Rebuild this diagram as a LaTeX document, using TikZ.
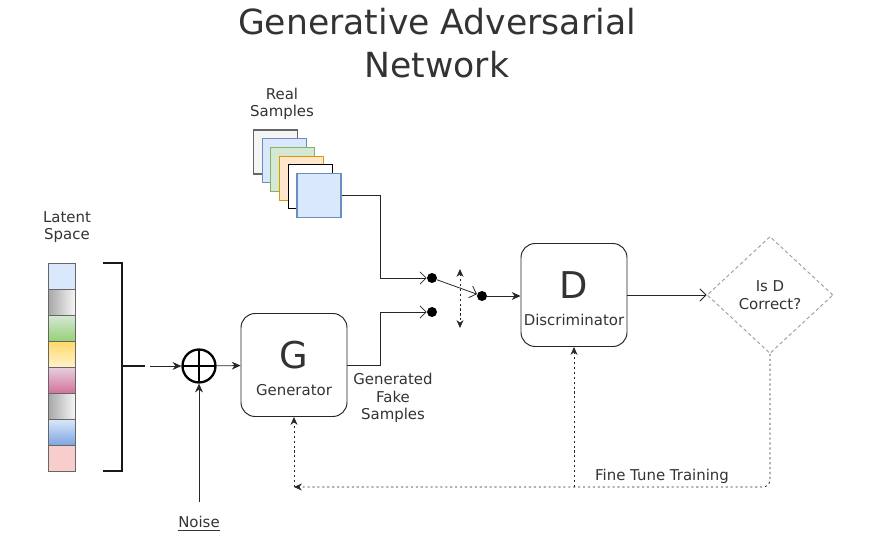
\documentclass[tikz,border=0pt]{standalone}
\usepackage{fontspec}
\setmainfont{DejaVu Sans}
\usepackage{tikz}
\usetikzlibrary{arrows.meta,positioning,calc,shapes.geometric}
\definecolor{ink}{HTML}{333333}
\definecolor{blu}{HTML}{DAE8FC}\definecolor{bluD}{HTML}{6C8EBF}\definecolor{bluM}{HTML}{7EA6E0}
\definecolor{grn}{HTML}{D5E8D4}\definecolor{grnD}{HTML}{82B366}\definecolor{grnM}{HTML}{97D077}
\definecolor{org}{HTML}{FFE6CC}\definecolor{orgD}{HTML}{D79B00}
\definecolor{gry}{HTML}{F5F5F5}\definecolor{gryD}{HTML}{666666}\definecolor{gryM}{HTML}{A6A6A6}
\definecolor{yel}{HTML}{FFF2CC}\definecolor{yelM}{HTML}{FFD966}
\definecolor{pnk}{HTML}{E6D0DE}\definecolor{pnkM}{HTML}{D5739D}
\definecolor{rose}{HTML}{F8CECC}

\begin{document}
\begin{tikzpicture}[x=0.02cm, y=-0.02cm,
  txt/.style={font=\fontsize{8.5}{10}\selectfont, text=ink, align=center, inner sep=1pt},
  box/.style={draw=black!85, line width=0.55pt, rounded corners=8pt, minimum width=2.12cm, minimum height=2.06cm},
  ltr/.style={font=\fontsize{21}{24}\selectfont, text=ink, inner sep=0pt},
  cell/.style={draw=gryD, line width=0.5pt, minimum width=0.54cm, minimum height=0.52cm, inner sep=0pt},
  sq/.style={line width=0.6pt, minimum size=0.88cm, inner sep=0pt},
  dot/.style={circle, fill=black, minimum size=0.2cm, inner sep=0pt},
  sum/.style={circle, draw=black, line width=1.3pt, minimum size=0.66cm, inner sep=0pt,
    path picture={\draw[line width=1.3pt] (path picture bounding box.north) -- (path picture bounding box.south)
      (path picture bounding box.west) -- (path picture bounding box.east);}},
  check/.style={diamond, draw=gray!80, dash pattern=on 2pt off 1.5pt, line width=0.5pt,
    minimum width=2.52cm, minimum height=2.34cm, inner sep=0pt},
  arr/.style={-{Stealth[length=5pt,width=4.5pt]}, line width=0.45pt, draw=black!85},
  oarr/.style={-{Straight Barb[length=3.5pt,width=7pt]}, line width=0.45pt, draw=black!85},
  fb/.style={-{Stealth[length=4.5pt,width=4pt]}, line width=0.45pt, draw=black!85, dash pattern=on 1.2pt off 1.6pt},
  lat1/.style={fill=blu},
  lat2/.style={left color=gryM, right color=gry},
  lat3/.style={top color=grn, bottom color=grnM},
  lat4/.style={top color=yelM, bottom color=yel},
  lat5/.style={top color=pnk, bottom color=pnkM},
  lat6/.style={left color=gryM, right color=gry},
  lat7/.style={top color=blu, bottom color=bluM},
  lat8/.style={fill=rose}
]
  \useasboundingbox (0,0) rectangle (880,544);

  \node[font=\fontsize{19.7}{24.4}\selectfont, text=ink, align=center] (title) at (437,43) {Generative Adversarial\\Network};

  % latent space
  \node[txt] (latlbl) at (67,227) {Latent\\Space};
  \foreach \i in {1,...,8}
    \node[cell, lat\i] (cell\i) at (61.5,{276+26*(\i-1)}) {};
  \draw[line width=1.1pt, draw=black!90] (103,263) -| (122,471) -- (103,471);
  \draw[line width=1.1pt, draw=black!90] (122,366) -- (145,366);
  \coordinate (brk) at (150,366);

  \node[sum] (plus) at (199,366) {};
  \node[txt] (noise) at (199,524) {\underline{Noise}};

  % generator and discriminator
  \node[box] (gen) at (294,365) {};
  \node[ltr] (gltr) at (294,355) {G};
  \node[txt] (gtxt) at (294,390) {Generator};
  \node[box] (disc) at (574,295) {};
  \node[ltr] (dltr) at (574,285) {D};
  \node[txt] (dtxt) at (574,320) {Discriminator};
  \node[txt] (fake) at (393,398) {Generated\\Fake\\Samples};

  % real samples
  \node[txt] (reallbl) at (282,104) {Real\\Samples};
  \foreach \fc/\dc [count=\i from 0] in {gry/gryD, blu/bluD, grn/grnD, org/orgD, white/black, blu/bluD}
    \node[sq, fill=\fc, draw=\dc] (rs\i) at ({275.5+8.7*\i},{152+8.7*\i}) {};

  % switch
  \node[dot] (dot1) at (432,278) {};
  \node[dot] (dot2) at (432,312) {};
  \node[dot] (dot3) at (482,296) {};
  \coordinate (bend) at (380,0);
  \coordinate (swtop) at (460,269);
  \coordinate (swbot) at (460,328);

  \node[check, txt, inner sep=0pt] (chk) at (770,295) {Is D\\Correct?};
  \coordinate (fbR) at (771,487);
  \coordinate (fbL) at (gen.south |- fbR);
  \coordinate (fbM) at (disc.south |- fbR);
  \node[txt] (tune) at (662,476) {Fine Tune Training};

  \draw[arr] (brk) -- (plus);
  \draw[arr] (noise.north) ++(0,-12) -- (plus.south);
  \draw[arr] (plus) -- (gen);
  \draw[oarr] (rs5.east) -| (bend |- dot1) -- (dot1);
  \draw[oarr] (gen.east) -| (bend |- dot2) -- (dot2);
  \draw[oarr] (dot1) -- (dot3);
  \draw[arr] (dot3) -- (disc.west |- dot3);
  \draw[fb, {Stealth[length=4.5pt,width=4pt]}-{Stealth[length=4.5pt,width=4pt]}] (swtop) -- (swbot);
  \draw[oarr] (disc) -- (chk);
  \draw[fb, rounded corners=4pt] (chk.south) |- (fbL);
  \draw[fb] (fbL) -- (gen.south);
  \draw[fb] (fbM) -- (disc.south);
\end{tikzpicture}
\end{document}
